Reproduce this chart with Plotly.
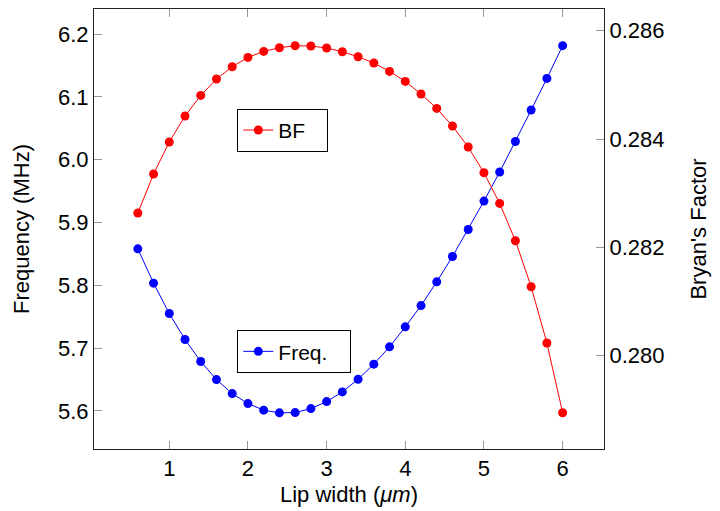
import plotly.graph_objects as go

lip_width = [0.6, 0.8, 1.0, 1.2, 1.4, 1.6, 1.8, 2.0, 2.2, 2.4, 2.6, 2.8, 3.0, 3.2,
             3.4, 3.6, 3.8, 4.0, 4.2, 4.4, 4.6, 4.8, 5.0, 5.2, 5.4, 5.6, 5.8, 6.0]
freq_mhz = [5.8581, 5.8035, 5.7551, 5.7137, 5.6787, 5.6500, 5.6277, 5.6118, 5.6013, 5.5970,
            5.5975, 5.6038, 5.6150, 5.6304, 5.6506, 5.6745, 5.7021, 5.7339, 5.7678, 5.8056,
            5.8459, 5.8889, 5.9341, 5.9803, 6.0290, 6.0790, 6.1293, 6.1814]
bryan_factor = [0.282634, 0.283354, 0.283945, 0.284425, 0.284806, 0.285108, 0.285335,
                0.285507, 0.285618, 0.285686, 0.285723, 0.285718, 0.285681, 0.285612,
                0.285520, 0.285404, 0.285249, 0.285064, 0.284831, 0.284566, 0.284241,
                0.283853, 0.283378, 0.282812, 0.282123, 0.281274, 0.280234, 0.278948]

FONT = "Liberation Sans, Arial, sans-serif"
FS = 22

fig = go.Figure()
fig.add_trace(go.Scatter(
    x=lip_width, y=bryan_factor, name="BF", yaxis="y2", mode="lines+markers",
    line=dict(color="#ff0000", width=1), marker=dict(color="#ff0000", size=9),
    legend="legend"))
fig.add_trace(go.Scatter(
    x=lip_width, y=freq_mhz, name="Freq.", yaxis="y", mode="lines+markers",
    line=dict(color="#0000ff", width=1), marker=dict(color="#0000ff", size=9),
    legend="legend2"))

tickstyle = dict(ticks="inside", ticklen=8, tickcolor="#999999", tickwidth=1,
                 showgrid=False, zeroline=False, linecolor="#222222", linewidth=1,
                 tickfont=dict(family=FONT, size=FS, color="black"))

legstyle = dict(xanchor="left", yanchor="top", bordercolor="black", borderwidth=1,
                bgcolor="white", font=dict(size=21, family=FONT, color="black"),
                tracegroupgap=0, itemwidth=30, orientation="h")

fig.update_layout(
    width=712, height=503,
    margin=dict(l=86, r=116, t=1, b=62),
    paper_bgcolor="white", plot_bgcolor="white",
    font=dict(family=FONT, color="black"),
    showlegend=True,
    xaxis=dict(range=[0.043, 6.526], dtick=1, tick0=0, showline=True, mirror="ticks",
               title=dict(text="Lip width (<i>μm</i>)", font=dict(size=FS), standoff=6),
               **tickstyle),
    yaxis=dict(range=[5.5395, 6.2398], dtick=0.1, tick0=5.6, tickformat=".1f",
               showline=True, side="left",
               title=dict(text="Frequency (MHz)", font=dict(size=FS), standoff=22),
               **tickstyle),
    yaxis2=dict(range=[0.278278, 0.286401], dtick=0.002, tick0=0.28, tickformat=".3f",
                overlaying="y", side="right", showline=True,
                title=dict(text="Bryan's Factor", font=dict(size=FS), standoff=27),
                **tickstyle),
    legend=dict(x=0.281, y=0.773, entrywidth=44, **legstyle),
    legend2=dict(x=0.281, y=0.270, entrywidth=67, **legstyle),
)

fig.write_html("out.html")
